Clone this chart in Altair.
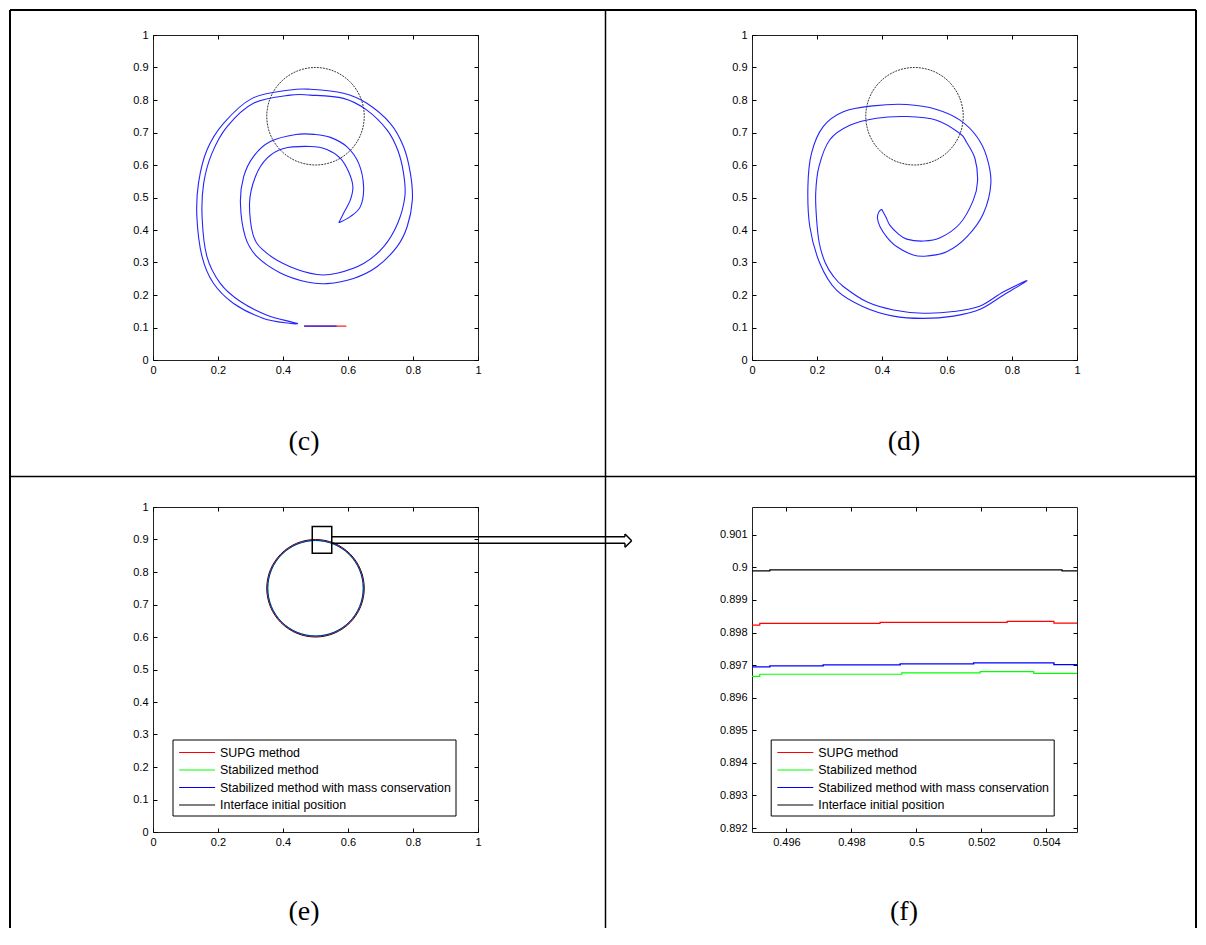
import altair as alt
import pandas as pd

# ---------------- data ----------------
methods = ["SUPG method", "Stabilized method",
           "Stabilized method with mass conservation", "Interface initial position"]
method_colors = ["#ff0000", "#00ff00", "#0000ff", "#000000"]

unit_x_ticks = [0, 0.2, 0.4, 0.6, 0.8, 1]
unit_y_ticks = [0, 0.1, 0.2, 0.3, 0.4, 0.5, 0.6, 0.7, 0.8, 0.9, 1]
zoom_x_ticks = [0.496, 0.498, 0.5, 0.502, 0.504]
zoom_y_ticks = [0.892, 0.893, 0.894, 0.895, 0.896, 0.897, 0.898, 0.899, 0.9, 0.901]
unit_domain = [0, 1]
zoom_x_domain = [0.49494, 0.50494]
zoom_y_domain = [0.89188, 0.90185]

panel_labels = ["(c)", "(d)", "(e)", "(f)"]

# initial interface (circle)
init_x = [0.65, 0.6386, 0.6061, 0.5574, 0.5, 0.4426, 0.3939, 0.3614,
          0.35, 0.3614, 0.3939, 0.4426, 0.5, 0.5574, 0.6061, 0.6386]
init_y = [0.75, 0.8074, 0.8561, 0.8886, 0.9, 0.8886, 0.8561, 0.8074,
          0.75, 0.6926, 0.6439, 0.6114, 0.6, 0.6114, 0.6439, 0.6926]

# (c) stretched interface
c_spiral_x = [0.573, 0.586, 0.607, 0.615, 0.602, 0.576, 0.535, 0.484, 0.402, 0.351,
              0.315, 0.297, 0.310, 0.351, 0.422, 0.505, 0.566, 0.648, 0.710, 0.753,
              0.775, 0.771, 0.753, 0.720, 0.658, 0.586, 0.484, 0.422, 0.309, 0.228,
              0.181, 0.156, 0.151, 0.166, 0.207, 0.269, 0.351, 0.422, 0.445,
              0.420, 0.340, 0.248, 0.186, 0.151, 0.135, 0.140, 0.166, 0.217, 0.305,
              0.422, 0.484, 0.586, 0.658, 0.730, 0.771, 0.792, 0.798, 0.782, 0.751,
              0.689, 0.617, 0.535, 0.474, 0.392, 0.320, 0.284, 0.269, 0.279, 0.309,
              0.361, 0.440, 0.500, 0.546, 0.597, 0.633, 0.648, 0.638, 0.607, 0.576, 0.573]
c_spiral_y = [0.425, 0.451, 0.492, 0.533, 0.579, 0.621, 0.648, 0.657, 0.651, 0.621,
              0.564, 0.482, 0.379, 0.328, 0.287, 0.263, 0.267, 0.297, 0.349, 0.421,
              0.503, 0.574, 0.646, 0.708, 0.769, 0.805, 0.815, 0.815, 0.790, 0.718,
              0.635, 0.544, 0.441, 0.318, 0.236, 0.180, 0.138, 0.118, 0.112,
              0.113, 0.128, 0.174, 0.236, 0.318, 0.441, 0.544, 0.646, 0.728, 0.805,
              0.831, 0.833, 0.821, 0.790, 0.728, 0.656, 0.574, 0.492, 0.410, 0.349,
              0.287, 0.251, 0.235, 0.240, 0.268, 0.318, 0.379, 0.482, 0.564, 0.626,
              0.672, 0.694, 0.694, 0.685, 0.656, 0.605, 0.533, 0.472, 0.441, 0.424, 0.425]
c_strip_red_x = [0.465, 0.595]
c_strip_red_y = [0.104, 0.104]
c_strip_blue_x = [0.465, 0.565]
c_strip_blue_y = [0.104, 0.104]

# (d) stretched interface
d_spiral_x = [0.399, 0.412, 0.424, 0.450, 0.476, 0.527, 0.579, 0.640, 0.681, 0.694,
              0.686, 0.660, 0.640, 0.568, 0.476, 0.383, 0.301, 0.239, 0.206, 0.196,
              0.199, 0.207, 0.225, 0.250, 0.281, 0.353, 0.435, 0.527, 0.620, 0.702, 0.774, 0.846,
              0.774, 0.702, 0.620, 0.527, 0.435, 0.342, 0.260, 0.209, 0.178, 0.172,
              0.183, 0.219, 0.281, 0.373, 0.476, 0.568, 0.640, 0.692, 0.722, 0.735,
              0.712, 0.661, 0.599, 0.538, 0.496, 0.445, 0.415, 0.394, 0.386, 0.390, 0.399]
d_spiral_y = [0.464, 0.440, 0.415, 0.388, 0.372, 0.366, 0.376, 0.420, 0.492, 0.550,
              0.620, 0.670, 0.697, 0.738, 0.749, 0.744, 0.722, 0.677, 0.595, 0.513,
              0.430, 0.360, 0.300, 0.258, 0.226, 0.179, 0.154, 0.144, 0.149, 0.166, 0.210, 0.244,
              0.200, 0.156, 0.135, 0.128, 0.135, 0.164, 0.215, 0.297, 0.410, 0.533,
              0.636, 0.718, 0.764, 0.782, 0.786, 0.771, 0.738, 0.687, 0.626, 0.544,
              0.451, 0.379, 0.333, 0.320, 0.323, 0.349, 0.378, 0.410, 0.436, 0.455, 0.464]

# (e) interfaces after the reversed flow
e_supg_x = [0.6483, 0.6370, 0.6049, 0.5568, 0.5, 0.4432, 0.3951, 0.3630,
            0.3517, 0.3630, 0.3951, 0.4432, 0.5, 0.5568, 0.6049, 0.6370]
e_supg_y = [0.75, 0.8068, 0.8549, 0.8870, 0.8983, 0.8870, 0.8549, 0.8068,
            0.75, 0.6932, 0.6451, 0.6130, 0.6017, 0.6130, 0.6451, 0.6932]
e_stab_x = [0.6467, 0.6355, 0.6037, 0.5561, 0.5, 0.4439, 0.3963, 0.3645,
            0.3533, 0.3645, 0.3963, 0.4439, 0.5, 0.5561, 0.6037, 0.6355]
e_stab_y = [0.75, 0.8061, 0.8537, 0.8855, 0.8967, 0.8855, 0.8537, 0.8061,
            0.75, 0.6939, 0.6463, 0.6145, 0.6033, 0.6145, 0.6463, 0.6939]
e_mass_x = [0.6470, 0.6358, 0.6040, 0.5563, 0.5, 0.4437, 0.3960, 0.3642,
            0.3530, 0.3642, 0.3960, 0.4437, 0.5, 0.5563, 0.6040, 0.6358]
e_mass_y = [0.75, 0.8063, 0.8540, 0.8858, 0.8970, 0.8858, 0.8540, 0.8063,
            0.75, 0.6937, 0.6460, 0.6142, 0.6030, 0.6142, 0.6460, 0.6937]
zoom_box_x = [0.49, 0.55]
zoom_box_y = [0.858, 0.94]

# (f) zoom at the top of the interface
f_supg_x = [0.49494, 0.49518, 0.49888, 0.50279, 0.50423, 0.50494]
f_supg_y = [0.898228, 0.898279, 0.898310, 0.898341, 0.898290, 0.898290]
f_stab_x = [0.49494, 0.49518, 0.49955, 0.50196, 0.50361, 0.50494]
f_stab_y = [0.896657, 0.896719, 0.896760, 0.896801, 0.896749, 0.896749]
f_mass_x = [0.49494, 0.49549, 0.49713, 0.49950, 0.50176, 0.50423, 0.50494]
f_mass_y = [0.896945, 0.896975, 0.897006, 0.897037, 0.897068, 0.897016, 0.897016]
f_init_x = [0.49494, 0.49549, 0.50448, 0.50494]
f_init_y = [0.899891, 0.899922, 0.899891, 0.899891]

# ---------------- helpers ----------------
FONT = "Liberation Sans"
SERIF = "Liberation Serif"
PW = 325
one = pd.DataFrame({"k": [0]})


def curve(xs, ys, method=None):
    df = pd.DataFrame({"x": xs, "y": ys, "i": list(range(len(xs)))})
    if method is not None:
        df["method"] = method
    return df


def enc_x(domain, values, role):
    scale = alt.Scale(domain=domain, nice=False, zero=False)
    if role == "main":
        return alt.X("x:Q", scale=scale, title=None,
                     axis=alt.Axis(orient="bottom", values=values, format="~g", offset=-4,
                                   tickSize=4, domain=False, grid=False, labelPadding=4,
                                   labelFlush=False, labelOverlap=False))
    if role == "mirror":
        return alt.X("x:Q", scale=scale, title=None,
                     axis=alt.Axis(orient="top", values=values, offset=-4, tickSize=4,
                                   domain=False, grid=False, labels=False))
    return alt.X("x:Q", scale=scale, axis=None)


def enc_y(domain, values, role):
    scale = alt.Scale(domain=domain, nice=False, zero=False)
    if role == "main":
        return alt.Y("y:Q", scale=scale, title=None,
                     axis=alt.Axis(orient="left", values=values, format="~g", offset=-4,
                                   tickSize=4, domain=False, grid=False, labelPadding=5,
                                   labelFlush=False, labelOverlap=False))
    if role == "mirror":
        return alt.Y("y:Q", scale=scale, title=None,
                     axis=alt.Axis(orient="right", values=values, offset=-4, tickSize=4,
                                   domain=False, grid=False, labels=False))
    return alt.Y("y:Q", scale=scale, axis=None)


def fixed_line(df, color, width, role, xd, yd, xt, yt, interp="linear", dash=None):
    mk = dict(color=color, strokeWidth=width, interpolate=interp, clip=True)
    if dash:
        mk["strokeDash"] = dash
    return alt.Chart(df).mark_line(**mk).encode(
        x=enc_x(xd, xt, role), y=enc_y(yd, yt, role), order="i:Q")


def legend_at(lx, ly):
    return alt.Legend(orient="none", legendX=lx, legendY=ly, direction="vertical",
                      title=None, strokeColor="black", fillColor="white", padding=4,
                      cornerRadius=0, symbolType="M-2.25,0L2.25,0", symbolSize=256,
                      symbolStrokeWidth=1.1, symbolOffset=11.6, labelFont=FONT,
                      labelFontSize=12.4, labelColor="black", labelOffset=14,
                      rowPadding=1.5, labelLimit=400)


def method_line(df, width, role, xd, yd, xt, yt, leg, interp="linear"):
    return alt.Chart(df).mark_line(strokeWidth=width, interpolate=interp, clip=True).encode(
        x=enc_x(xd, xt, role), y=enc_y(yd, yt, role), order="i:Q",
        color=alt.Color("method:N", scale=alt.Scale(domain=methods, range=method_colors),
                        legend=leg))


def rule(x1, y1, x2, y2, w):
    return alt.Chart(one).mark_rule(color="black", strokeWidth=w).encode(
        x=alt.value(x1), y=alt.value(y1), x2=alt.value(x2), y2=alt.value(y2))


def label(text, x, y):
    return alt.Chart(one).mark_text(text=text, font=SERIF, fontSize=28, color="black",
                                    align="center", baseline="middle").encode(
        x=alt.value(x), y=alt.value(y))


U = dict(xd=unit_domain, yd=unit_domain, xt=unit_x_ticks, yt=unit_y_ticks)
Z = dict(xd=zoom_x_domain, yd=zoom_y_domain, xt=zoom_x_ticks, yt=zoom_y_ticks)
SPIRAL_BLUE = "#2424ff"
CIRCLE_GREY = "#3a3a3a"

# ---------------- panel (c) ----------------
panel_c = alt.layer(
    fixed_line(curve(init_x, init_y), CIRCLE_GREY, 1, "main", interp="cardinal-closed",
               dash=[2, 1], **U),
    fixed_line(curve(c_spiral_x, c_spiral_y), SPIRAL_BLUE, 1.1, "mirror", interp="cardinal", **U),
    fixed_line(curve(c_strip_red_x, c_strip_red_y), "#ff2020", 1.2, "none", **U),
    fixed_line(curve(c_strip_blue_x, c_strip_blue_y), SPIRAL_BLUE, 1.2, "none", **U),
    label(panel_labels[0], 151, 407),
    # table frame
    rule(-143, -25, 1043, -25, 2),
    rule(-143, -25, -143, 893, 2),
    rule(1043, -25, 1043, 893, 2),
    rule(452.5, -25, 452.5, 893, 1.5),
    rule(-143, 441.5, 1043, 441.5, 1.5),
).properties(width=PW, height=PW)

# ---------------- panel (d) ----------------
panel_d = alt.layer(
    fixed_line(curve(init_x, init_y), CIRCLE_GREY, 1, "main", interp="cardinal-closed",
               dash=[2, 1], **U),
    fixed_line(curve(d_spiral_x, d_spiral_y), SPIRAL_BLUE, 1.1, "mirror", interp="cardinal", **U),
    label(panel_labels[1], 152, 407),
).properties(width=PW, height=PW)

# ---------------- panel (e) ----------------
leg_e = legend_at(19.5, 232.5)
box_df = pd.DataFrame({"x": [zoom_box_x[0]], "x2": [zoom_box_x[1]],
                       "y": [zoom_box_y[0]], "y2": [zoom_box_y[1]]})
panel_e = alt.layer(
    method_line(curve(init_x, init_y, methods[3]), 1.0, "main", leg=leg_e, interp="cardinal-closed", **U),
    method_line(curve(e_supg_x, e_supg_y, methods[0]), 1.0, "mirror", leg=leg_e, interp="cardinal-closed", **U),
    method_line(curve(e_stab_x, e_stab_y, methods[1]), 1.0, "none", leg=leg_e, interp="cardinal-closed", **U),
    method_line(curve(e_mass_x, e_mass_y, methods[2]), 0.9, "none", leg=leg_e, interp="cardinal-closed", **U),
    alt.Chart(box_df).mark_rect(fillOpacity=0, stroke="black", strokeWidth=1.5).encode(
        x=enc_x(unit_domain, unit_x_ticks, "none"), x2="x2:Q",
        y=enc_y(unit_domain, unit_y_ticks, "none"), y2="y2:Q"),
    rule(178.75, 29.7, 472, 29.7, 1.5),
    rule(178.75, 36.3, 472, 36.3, 1.5),
    rule(472, 27, 472, 29.7, 1.5),
    rule(472, 36.3, 472, 40.3, 1.5),
    rule(472, 27, 478.7, 33.7, 1.5),
    rule(478.7, 33.7, 472, 40.3, 1.5),
    label(panel_labels[2], 151, 405),
).properties(width=PW, height=PW)

# ---------------- panel (f) ----------------
leg_f = legend_at(18.7, 232.5)
panel_f = alt.layer(
    method_line(curve(f_init_x, f_init_y, methods[3]), 1.2, "main", leg=leg_f, interp="step-after", **Z),
    method_line(curve(f_supg_x, f_supg_y, methods[0]), 1.2, "mirror", leg=leg_f, interp="step-after", **Z),
    method_line(curve(f_stab_x, f_stab_y, methods[1]), 1.2, "none", leg=leg_f, interp="step-after", **Z),
    method_line(curve(f_mass_x, f_mass_y, methods[2]), 1.4, "none", leg=leg_f, interp="step-after", **Z),
    label(panel_labels[3], 152, 405),
).properties(width=PW, height=PW)

chart = alt.concat(
    panel_c, panel_d, panel_e, panel_f,
    columns=2, spacing={"row": 147, "column": 274}, bounds="flush",
).resolve_scale(color="independent").properties(
    padding=0, autosize=alt.AutoSizeParams(type="pad"),
).configure(font=FONT).configure_view(
    stroke="#222222", strokeWidth=1,
).configure_axis(
    labelFont=FONT, labelFontSize=11, labelColor="black", tickColor="black", tickWidth=1,
)

chart.save("out.html", embed_options={"renderer": "svg", "actions": False})
